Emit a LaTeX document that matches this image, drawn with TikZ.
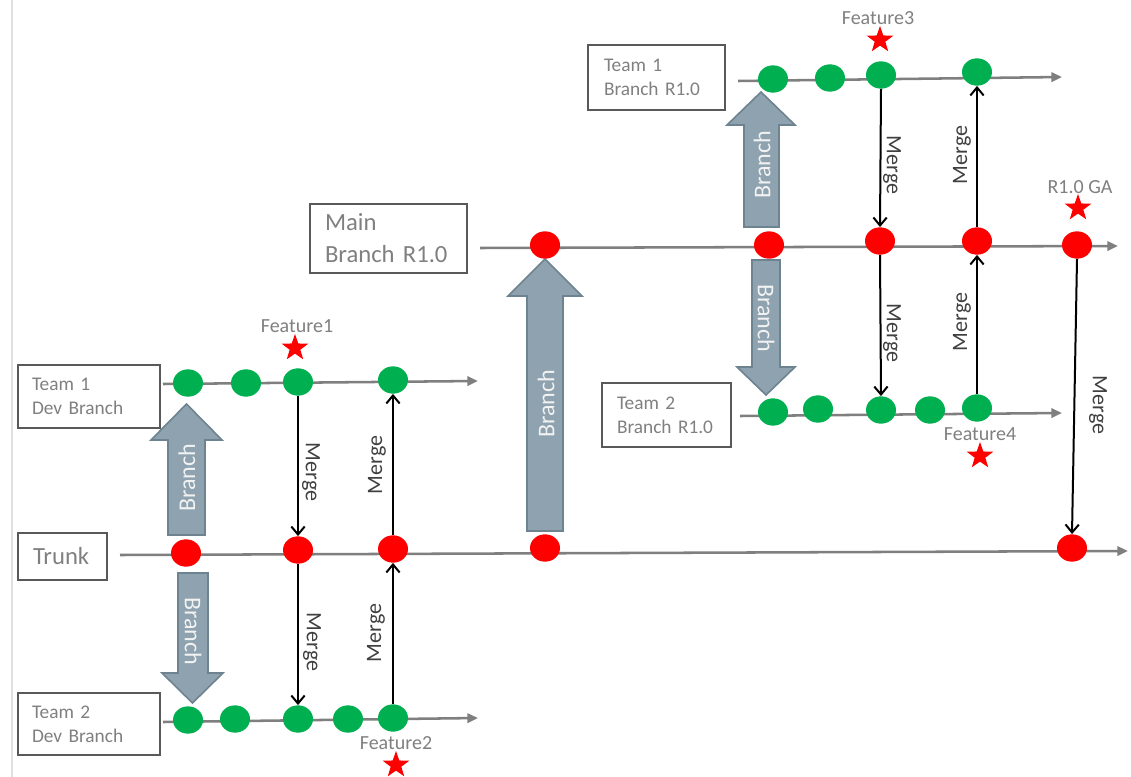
\documentclass[tikz,border=0pt]{standalone}
\usepackage{fontspec}
\setmainfont{Carlito}
\usetikzlibrary{arrows.meta,shapes.geometric,backgrounds}
\definecolor{dotred}{HTML}{FF0000}
\definecolor{dotgreen}{HTML}{00B050}
\definecolor{lineg}{HTML}{7F7F7F}
\definecolor{boxline}{HTML}{595959}
\definecolor{txtg}{HTML}{808080}
\definecolor{arrfill}{HTML}{8EA3AF}
\definecolor{arrline}{HTML}{6D838F}
\definecolor{mergetxt}{HTML}{404040}
\begin{document}
\begin{tikzpicture}[x=0.75pt,y=-0.75pt,
  branchline/.style={draw=lineg,line width=1.9pt,-{Triangle[length=8pt,width=7pt]}},
  commit/.style={ellipse,minimum width=22.5pt,minimum height=20.5pt,inner sep=0pt},
  rdot/.style={commit,fill=dotred},
  gdot/.style={commit,fill=dotgreen},
  box/.style={draw=boxline,line width=1.6pt,fill=white,rectangle,align=left,text=txtg,inner xsep=0pt,inner ysep=0pt},
  smallbox/.style={box,font=\fontsize{14.5pt}{18pt}\selectfont},
  bigbox/.style={box,font=\fontsize{18.5pt}{24pt}\selectfont},
  merge/.style={draw=black,line width=1.5pt,-{Straight Barb[length=6pt,width=10pt]}},
  mergelbl/.style={text=mergetxt,font=\fontsize{16.5pt}{18pt}\selectfont,inner sep=0pt},
  blockarrow/.style={fill=arrfill,draw=arrline,line width=1.2pt,line join=miter},
  branchlbl/.style={text=white!95!black,font=\fontsize{18pt}{20pt}\selectfont,inner sep=0pt},
  feature/.style={text=txtg,font=\fontsize{15pt}{18pt}\selectfont,inner sep=0pt},
  featstar/.style={star,star points=5,star point ratio=2.5,fill=dotred,minimum size=21pt,inner sep=0pt}
]
\useasboundingbox (0,0) rectangle (1131,777);

% ---------- boxes ----------
\node[smallbox,minimum width=106.5pt,minimum height=47.25pt,text width=85.5pt] (bt1dev) at (89,396.5) {Team 1\\Dev Branch};
\node[bigbox,minimum width=66.75pt,minimum height=35.25pt,text width=44.25pt] (btrunk) at (62.5,556.5) {Trunk};
\node[smallbox,minimum width=106.5pt,minimum height=46.5pt,text width=85.5pt] (bt2dev) at (89,724) {Team 2\\Dev Branch};
\node[bigbox,minimum width=117.75pt,minimum height=51.75pt,text width=95.25pt] (bmain) at (388.5,238.5) {Main\\Branch R1.0};
\node[smallbox,minimum width=102.75pt,minimum height=48.75pt,text width=78.75pt] (bt1r) at (656.5,77.5) {Team 1\\Branch R1.0};
\node[smallbox,minimum width=96.75pt,minimum height=48pt,text width=74.25pt] (bt2r) at (666.5,415) {Team 2\\Branch R1.0};

% ---------- line end points ----------
\coordinate (t1s) at (163,384); \coordinate (t1e) at (478,381);
\coordinate (trs) at (120,555); \coordinate (tre) at (1128,551);
\coordinate (t2s) at (163,722); \coordinate (t2e) at (478,718);
\coordinate (ms) at (480,248);  \coordinate (me) at (1118,246);
\coordinate (r1s) at (738,81);  \coordinate (r1e) at (1062,77);
\coordinate (r2s) at (740,416); \coordinate (r2e) at (1062,413);

% ---------- commits ----------
\node[gdot] (g1a) at (188,383) {};
\node[gdot] (g1b) at (246,383) {};
\node[gdot] (g1c) at (298,382) {};
\node[gdot] (g1d) at (393,380) {};

\node[rdot] (tr1) at (186,553) {};
\node[rdot] (tr2) at (298,550) {};
\node[rdot] (tr3) at (393,549) {};
\node[rdot] (tr4) at (545,548) {};
\node[rdot] (tr5) at (1072,548) {};

\node[gdot] (g2a) at (188,720) {};
\node[gdot] (g2b) at (235,719) {};
\node[gdot] (g2c) at (298,719) {};
\node[gdot] (g2d) at (348,719) {};
\node[gdot] (g2e) at (393,718) {};

\node[rdot] (m1) at (545,245) {};
\node[rdot] (m2) at (769,245) {};
\node[rdot] (m3) at (880,241) {};
\node[rdot] (m4) at (977,241) {};
\node[rdot] (m5) at (1077,245) {};

\node[gdot] (h1a) at (773,79) {};
\node[gdot] (h1b) at (830,78) {};
\node[gdot] (h1c) at (881,75) {};
\node[gdot] (h1d) at (977,72) {};

\node[gdot] (k2a) at (773,412) {};
\node[gdot] (k2b) at (818,409) {};
\node[gdot] (k2c) at (881,410) {};
\node[gdot] (k2d) at (930,410) {};
\node[gdot] (k2e) at (977,408) {};

% ---------- features ----------
\node[feature] (f1) at (297,326) {Feature1};
\node[featstar] (s1) at (295,348) {};
\node[feature] (f2) at (396,743) {Feature2};
\node[featstar] (s2) at (396,765) {};
\node[feature] (f3) at (878,18) {Feature3};
\node[featstar] (s3) at (880,40) {};
\node[feature] (f4) at (980,434) {Feature4};
\node[featstar] (s4) at (980,456) {};
\node[feature] (fga) at (1080,187) {R1.0 GA};
\node[featstar] (sga) at (1078,208) {};

% ---------- background: lines and arrows ----------
\begin{scope}[on background layer]
\fill[white] (0,0) rectangle (1131,777);
\draw[draw=black!12,line width=0.8pt] (12,0) -- (12,777);
\draw[branchline] (t1s) -- (t1e);
\draw[branchline] (trs) -- (tre);
\draw[branchline] (t2s) -- (t2e);
\draw[branchline] (ms) -- (me);
\draw[branchline] (r1s) -- (r1e);
\draw[branchline] (r2s) -- (r2e);

% block arrows
\draw[blockarrow] (168,535) -- (205,535) -- (205,440) -- (222,440) -- (186.5,404) -- (151,440) -- (168,440) -- cycle;
\draw[blockarrow] (178,573) -- (208,573) -- (208,673) -- (223,673) -- (192.5,703) -- (162,673) -- (178,673) -- cycle;
\draw[blockarrow] (527,531) -- (563,531) -- (563,296) -- (582,296) -- (545,259) -- (508,296) -- (527,296) -- cycle;
\draw[blockarrow] (744,227) -- (779,227) -- (779,125) -- (795,125) -- (761,92) -- (727,125) -- (744,125) -- cycle;
\draw[blockarrow] (752,260) -- (780,260) -- (780,367) -- (795,367) -- (766,395) -- (737,367) -- (752,367) -- cycle;
\end{scope}

% branch labels
\node[branchlbl,rotate=90] (bl1) at (187,478) {Branch};
\node[branchlbl,rotate=-90] (bl2) at (193,631) {Branch};
\node[branchlbl,rotate=90] (bl3) at (546,404) {Branch};
\node[branchlbl,rotate=90] (bl4) at (762,165) {Branch};
\node[branchlbl,rotate=-90] (bl5) at (766,318) {Branch};

% ---------- merges ----------
\draw[merge] (g1c.south) -- (tr2.north);
\draw[merge] (tr3.north) -- (g1d.south);
\draw[merge] (tr2.south) -- (g2c.north);
\draw[merge] (g2e.north) -- (tr3.south);
\draw[merge] (h1c.south) -- (m3.north);
\draw[merge] (m4.north) -- (h1d.south);
\draw[merge] (m3.south) -- (k2c.north);
\draw[merge] (k2e.north) -- (m4.south);
\draw[merge] (m5.south) -- (tr5.north);

\node[mergelbl,rotate=-90] (ml1) at (311,472) {Merge};
\node[mergelbl,rotate=90]  (ml2) at (377,465) {Merge};
\node[mergelbl,rotate=-90] (ml3) at (312,642) {Merge};
\node[mergelbl,rotate=90]  (ml4) at (376,633) {Merge};
\node[mergelbl,rotate=-90] (ml5) at (892,165) {Merge};
\node[mergelbl,rotate=90]  (ml6) at (962,155) {Merge};
\node[mergelbl,rotate=-90] (ml7) at (892,333) {Merge};
\node[mergelbl,rotate=90]  (ml8) at (962,322) {Merge};
\node[mergelbl,rotate=-90] (ml9) at (1098,405) {Merge};
\end{tikzpicture}
\end{document}
